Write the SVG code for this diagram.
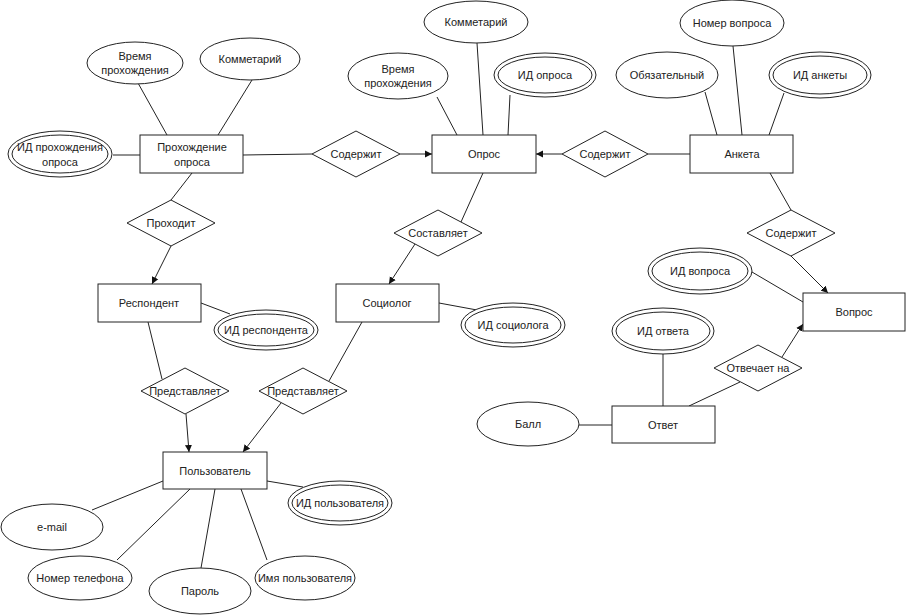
<svg xmlns="http://www.w3.org/2000/svg" width="906" height="616" viewBox="0 0 906 616">
<defs>
<style>
.e{fill:#fff;stroke:#222;stroke-width:1}
.r{fill:#fff;stroke:#222;stroke-width:1}
.l{fill:none;stroke:#222;stroke-width:1}
text{font-family:"Liberation Sans",Arial,sans-serif;font-size:11px;fill:#222;text-anchor:middle;dominant-baseline:central}
</style>
<marker id="a" markerWidth="8" markerHeight="8" refX="7" refY="4" orient="auto" markerUnits="userSpaceOnUse">
<path d="M0,0.5 L7,4 L0,7.5 Z" fill="#111"/>
</marker>
</defs>
<rect width="906" height="616" fill="#fff"/>
<g id="connectors">
<line class="l" x1="138" y1="83" x2="167" y2="135"/>
<line class="l" x1="252" y1="80" x2="218" y2="135"/>
<line class="l" x1="113" y1="155" x2="140" y2="155"/>
<line class="l" x1="243" y1="155" x2="312" y2="154"/>
<line class="l" x1="400" y1="154" x2="432" y2="154" marker-end="url(#a)"/>
<line class="l" x1="562" y1="154" x2="536" y2="154" marker-end="url(#a)"/>
<line class="l" x1="648" y1="154" x2="690" y2="154"/>
<line class="l" x1="437" y1="97" x2="457" y2="135"/>
<line class="l" x1="477" y1="43" x2="483" y2="135"/>
<line class="l" x1="510" y1="95" x2="508" y2="135"/>
<line class="l" x1="705" y1="92" x2="717" y2="135"/>
<line class="l" x1="733" y1="46" x2="742" y2="135"/>
<line class="l" x1="784" y1="93" x2="769" y2="135"/>
<line class="l" x1="192" y1="173" x2="171" y2="200"/>
<line class="l" x1="171" y1="246" x2="152" y2="284" marker-end="url(#a)"/>
<line class="l" x1="483" y1="173" x2="461" y2="222"/>
<line class="l" x1="415" y1="244" x2="389" y2="284" marker-end="url(#a)"/>
<line class="l" x1="770" y1="173" x2="791" y2="210"/>
<line class="l" x1="791" y1="256" x2="828" y2="293" marker-end="url(#a)"/>
<line class="l" x1="752" y1="272" x2="803" y2="302"/>
<line class="l" x1="201" y1="303" x2="230" y2="314"/>
<line class="l" x1="439" y1="303" x2="477" y2="310"/>
<line class="l" x1="148" y1="322" x2="162" y2="379"/>
<line class="l" x1="186" y1="414" x2="189" y2="452" marker-end="url(#a)"/>
<line class="l" x1="362" y1="322" x2="329" y2="381"/>
<line class="l" x1="281" y1="403" x2="243" y2="452" marker-end="url(#a)"/>
<line class="l" x1="663" y1="354" x2="663" y2="406"/>
<line class="l" x1="689" y1="406" x2="740" y2="382"/>
<line class="l" x1="782" y1="357" x2="803" y2="324" marker-end="url(#a)"/>
<line class="l" x1="579" y1="425" x2="612" y2="425"/>
<line class="l" x1="163" y1="481" x2="92" y2="510"/>
<line class="l" x1="190" y1="489" x2="117" y2="560"/>
<line class="l" x1="215" y1="489" x2="201" y2="568"/>
<line class="l" x1="241" y1="489" x2="267" y2="560"/>
<line class="l" x1="267" y1="481" x2="303" y2="487"/>
</g>
<g id="prohozhdenie">
<rect class="r" x="140" y="135" width="103" height="38"/>
<text x="192" y="147">Прохождение</text>
<text x="192" y="162">опроса</text>
</g>
<g id="pr_vremya">
<ellipse class="e" cx="135" cy="63" rx="48" ry="21"/>
<text x="135" y="56">Время</text>
<text x="135" y="70">прохождения</text>
</g>
<g id="pr_komm">
<ellipse class="e" cx="250" cy="59" rx="50" ry="21"/>
<text x="250" y="59">Комметарий</text>
</g>
<g id="pr_id">
<ellipse class="e" cx="60" cy="154" rx="52" ry="23"/>
<ellipse class="e" cx="60" cy="154" rx="48" ry="19"/>
<text x="60" y="147">ИД прохождения</text>
<text x="60" y="162">опроса</text>
</g>
<g id="soderzhit1">
<polygon class="e" points="356,131 400,154 356,177 312,154"/>
<text x="356" y="154">Содержит</text>
</g>
<g id="opros">
<rect class="r" x="432" y="135" width="104" height="38"/>
<text x="484" y="154">Опрос</text>
</g>
<g id="op_komm">
<ellipse class="e" cx="476" cy="22" rx="52" ry="21"/>
<text x="476" y="22">Комметарий</text>
</g>
<g id="op_vremya">
<ellipse class="e" cx="398" cy="76" rx="50" ry="23"/>
<text x="398" y="69">Время</text>
<text x="398" y="83">прохождения</text>
</g>
<g id="op_id">
<ellipse class="e" cx="545" cy="75" rx="51" ry="22"/>
<ellipse class="e" cx="545" cy="75" rx="47" ry="18"/>
<text x="545" y="75">ИД опроса</text>
</g>
<g id="soderzhit2">
<polygon class="e" points="605,131 648,154 605,177 562,154"/>
<text x="605" y="154">Содержит</text>
</g>
<g id="anketa">
<rect class="r" x="690" y="135" width="103" height="38"/>
<text x="742" y="154">Анкета</text>
</g>
<g id="an_nomer">
<ellipse class="e" cx="732" cy="23" rx="52" ry="23"/>
<text x="732" y="23">Номер вопроса</text>
</g>
<g id="an_obyaz">
<ellipse class="e" cx="667" cy="75" rx="51" ry="23"/>
<text x="667" y="75">Обязательный</text>
</g>
<g id="an_id">
<ellipse class="e" cx="820" cy="75" rx="51" ry="23"/>
<ellipse class="e" cx="820" cy="75" rx="47" ry="19"/>
<text x="820" y="75">ИД анкеты</text>
</g>
<g id="prohodit">
<polygon class="e" points="171,200 215,223 171,246 127,223"/>
<text x="171" y="223">Проходит</text>
</g>
<g id="sostavlyaet">
<polygon class="e" points="438,210 482,233 438,256 394,233"/>
<text x="438" y="233">Составляет</text>
</g>
<g id="soderzhit3">
<polygon class="e" points="791,210 835,233 791,256 747,233"/>
<text x="791" y="233">Содержит</text>
</g>
<g id="respondent">
<rect class="r" x="98" y="284" width="103" height="38"/>
<text x="149" y="303">Респондент</text>
</g>
<g id="resp_id">
<ellipse class="e" cx="266" cy="330" rx="52" ry="20"/>
<ellipse class="e" cx="266" cy="330" rx="48" ry="16"/>
<text x="266" y="330">ИД респондента</text>
</g>
<g id="sociolog">
<rect class="r" x="336" y="284" width="103" height="38"/>
<text x="387" y="303">Социолог</text>
</g>
<g id="soc_id">
<ellipse class="e" cx="513" cy="325" rx="52" ry="22"/>
<ellipse class="e" cx="513" cy="325" rx="48" ry="18"/>
<text x="513" y="325">ИД социолога</text>
</g>
<g id="vopros">
<rect class="r" x="803" y="293" width="102" height="38"/>
<text x="854" y="312">Вопрос</text>
</g>
<g id="vop_id">
<ellipse class="e" cx="700" cy="271" rx="52" ry="23"/>
<ellipse class="e" cx="700" cy="271" rx="48" ry="19"/>
<text x="700" y="271">ИД вопроса</text>
</g>
<g id="otv_id">
<ellipse class="e" cx="663" cy="331" rx="51" ry="23"/>
<ellipse class="e" cx="663" cy="331" rx="47" ry="19"/>
<text x="663" y="331">ИД ответа</text>
</g>
<g id="otvechaet">
<polygon class="e" points="758,345 802,368 758,391 714,368"/>
<text x="758" y="368">Отвечает на</text>
</g>
<g id="otvet">
<rect class="r" x="612" y="406" width="103" height="37"/>
<text x="663" y="425">Ответ</text>
</g>
<g id="ball">
<ellipse class="e" cx="528" cy="424" rx="51" ry="22"/>
<text x="528" y="424">Балл</text>
</g>
<g id="predst1">
<polygon class="e" points="185,368 229,391 185,414 141,391"/>
<text x="185" y="391">Представляет</text>
</g>
<g id="predst2">
<polygon class="e" points="303,368 347,391 303,414 259,391"/>
<text x="303" y="391">Представляет</text>
</g>
<g id="polzovatel">
<rect class="r" x="163" y="452" width="104" height="37"/>
<text x="215" y="471">Пользователь</text>
</g>
<g id="pol_id">
<ellipse class="e" cx="340" cy="503" rx="52" ry="22"/>
<ellipse class="e" cx="340" cy="503" rx="48" ry="18"/>
<text x="340" y="503">ИД пользователя</text>
</g>
<g id="email">
<ellipse class="e" cx="52" cy="527" rx="51" ry="23"/>
<text x="52" y="527">e-mail</text>
</g>
<g id="telefon">
<ellipse class="e" cx="80" cy="578" rx="52" ry="22"/>
<text x="80" y="578">Номер телефона</text>
</g>
<g id="parol">
<ellipse class="e" cx="200" cy="591" rx="51" ry="23"/>
<text x="200" y="591">Пароль</text>
</g>
<g id="imya">
<ellipse class="e" cx="305" cy="578" rx="50" ry="22"/>
<text x="305" y="578">Имя пользователя</text>
</g>
</svg>
